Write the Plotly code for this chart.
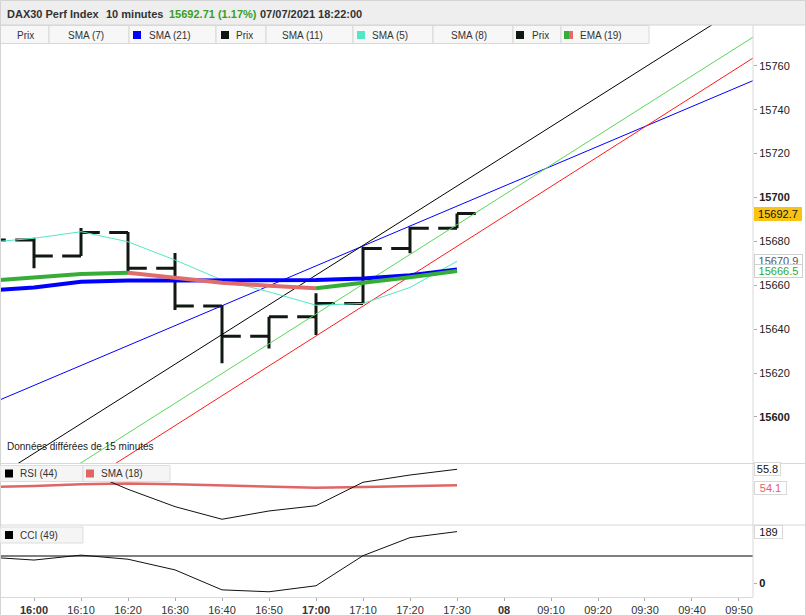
import plotly.graph_objects as go

# ---------------- data ----------------
bar_idx = [-1, 0, 1, 2, 3, 4, 5, 6, 7, 8, 9]
bar_open = [15676.0, 15680.6, 15673.3, 15684.0, 15667.8, 15650.5, 15636.8, 15645.6, 15651.7, 15676.8, 15686.0]
bar_high = [15684.0, 15681.7, 15686.1, 15684.3, 15674.7, 15651.0, 15645.6, 15656.3, 15677.6, 15686.7, 15692.7]
bar_low = [15672.0, 15667.7, 15673.3, 15666.0, 15648.7, 15624.4, 15631.2, 15637.3, 15651.7, 15674.6, 15686.0]
bar_close = [15680.6, 15673.3, 15684.0, 15667.8, 15650.5, 15636.8, 15645.6, 15651.7, 15676.8, 15686.0, 15692.7]

sma21 = [15657.6, 15659.0, 15661.6, 15662.2, 15662.2, 15662.2, 15662.2, 15662.4, 15663.1, 15664.6, 15667.2]
ema19 = [15662.0, 15663.6, 15665.1, 15665.7, 15663.6, 15661.1, 15659.8, 15658.6, 15660.9, 15663.6, 15666.5]
sma5 = [15679.5, 15681.4, 15684.4, 15679.8, 15671.5, 15662.4, 15657.0, 15650.9, 15651.7, 15659.0, 15670.9]

# straight trend lines (value at bar index -1 and 16)
trend_x = [-1, 16]
trend_black = [15569.85, 15800.0]
trend_green = [15551.94, 15782.57]
trend_red = [15541.53, 15773.09]
trend_blue = [15605.27, 15759.61]

rsi44 = [55.5, 55.4, 55.8, 53.67, 51.83, 50.49, 51.37, 51.93, 54.42, 55.19, 55.8]
rsi_sma18 = [53.92, 54.02, 54.2, 54.3, 54.22, 54.1, 53.97, 53.84, 53.93, 54.02, 54.1]
cci49 = [96, 85, 103, 88, 49, -24, -31, -9, 101, 167, 189]
cci_level = 100

tick_idx = list(range(16))
tick_labels = ["<b>16:00</b>", "16:10", "16:20", "16:30", "16:40", "16:50", "<b>17:00</b>",
               "17:10", "17:20", "17:30", "<b>08</b>", "09:10", "09:20", "09:30", "09:40", "09:50"]
price_ticks = [15600, 15620, 15640, 15660, 15680, 15700, 15720, 15740, 15760]
price_tick_text = ["<b>15600</b>", "15620", "15640", "15660", "15680", "<b>15700</b>", "15720", "15740", "15760"]

last_price = 15692.7
last_sma5 = 15670.9
last_ema = 15666.5
last_rsi = 55.8
last_rsi_sma = 54.1
last_cci = 189

# ---------------- layout helpers (pixel -> paper) ----------------
W, H = 806, 616
L, R, T, B = 0, 53, 25, 19
PW, PH = W - L - R, H - T - B


def px(x):
    return (x - L) / PW


def py(y):
    return (H - B - y) / PH


FONT = "Liberation Sans, Arial, sans-serif"

fig = go.Figure()

# trend lines
for vals, col in [(trend_blue, "#0000ff"), (trend_black, "#000000"),
                  (trend_green, "#5ad65a"), (trend_red, "#ff1a1a")]:
    fig.add_trace(go.Scatter(x=trend_x, y=vals, mode="lines",
                             line=dict(color=col, width=1), hoverinfo="skip"))

# SMA 5 cyan
fig.add_trace(go.Scatter(x=bar_idx, y=sma5, mode="lines",
                         line=dict(color="#52e8c4", width=1)))
# SMA 21 thick blue
fig.add_trace(go.Scatter(x=bar_idx, y=sma21, mode="lines",
                         line=dict(color="#0000ff", width=4)))

# EMA 19 coloured by direction
segs = []
start = 0
cur = None
for i in range(1, len(ema19)):
    up = ema19[i] >= ema19[i - 1]
    if cur is None:
        cur = up
    if up != cur:
        segs.append((start, i - 1, cur))
        start = i - 1
        cur = up
segs.append((start, len(ema19) - 1, cur))
for s, e, up in segs:
    fig.add_trace(go.Scatter(x=bar_idx[s:e + 1], y=ema19[s:e + 1], mode="lines",
                             line=dict(color="#36ad36" if up else "#e06c6c", width=4)))

# price bars
fig.add_trace(go.Ohlc(x=bar_idx, open=bar_open, high=bar_high, low=bar_low, close=bar_close,
                      tickwidth=0.4,
                      increasing=dict(line=dict(color="#111811", width=3)),
                      decreasing=dict(line=dict(color="#111811", width=3))))

# RSI panel
fig.add_trace(go.Scatter(x=bar_idx, y=rsi_sma18, mode="lines", yaxis="y2",
                         line=dict(color="#e06666", width=2.5)))
fig.add_trace(go.Scatter(x=bar_idx, y=rsi44, mode="lines", yaxis="y2",
                         line=dict(color="#111111", width=1)))

# CCI panel
fig.add_trace(go.Scatter(x=[-1, 16], y=[cci_level, cci_level], mode="lines", yaxis="y3",
                         line=dict(color="#555555", width=1.5)))
fig.add_trace(go.Scatter(x=bar_idx, y=cci49, mode="lines", yaxis="y3",
                         line=dict(color="#111111", width=1)))

shapes = []
annotations = []

# header
shapes.append(dict(type="rect", xref="paper", yref="paper", x0=px(0), x1=px(W), y0=py(0), y1=py(25),
                   fillcolor="#eeeeee", line=dict(width=0), layer="above"))
shapes.append(dict(type="line", xref="paper", yref="paper", x0=px(0), x1=px(W), y0=py(25), y1=py(25),
                   line=dict(color="#d4d4d4", width=1), layer="above"))

header = [(5, "<b>DAX30 Perf Index</b>", "#333333"),
          (104, "<b>10 minutes</b>", "#333333"),
          (167, "<b>15692.71 (1.17%)</b>", "#3a9e22"),
          (258, "<b>07/07/2021 18:22:00</b>", "#333333")]
for x, t, c in header:
    annotations.append(dict(x=px(x), y=py(14), xref="paper", yref="paper", xanchor="left", yanchor="middle",
                            text=t, showarrow=False, font=dict(family=FONT, size=11, color=c)))

# legend row
legend_boxes = [(0, 49), (49, 129), (129, 216), (216, 266), (266, 353), (353, 433), (433, 513), (513, 561), (561, 649)]
for x0, x1 in legend_boxes:
    shapes.append(dict(type="rect", xref="paper", yref="paper", x0=px(x0), x1=px(x1), y0=py(25.5), y1=py(43.5),
                       fillcolor="#f7f7f7", line=dict(color="#d8d8d8", width=1), layer="above"))
legend_text = [(25, "Prix", "center"), (86, "SMA (7)", "center"), (147, "SMA (21)", "left"),
               (234, "Prix", "left"), (302, "SMA (11)", "center"), (370, "SMA (5)", "left"),
               (469, "SMA (8)", "center"), (530, "Prix", "left"), (578, "EMA (19)", "left")]
for x, t, a in legend_text:
    annotations.append(dict(x=px(x), y=py(35), xref="paper", yref="paper", xanchor=a, yanchor="middle",
                            text=t, showarrow=False, font=dict(family=FONT, size=10, color="#333333")))
squares = [(133, 141, "#0000ff"), (221, 229, "#111811"), (357, 365, "#52e8c4"), (516, 524, "#111811"),
           (564, 569, "#36ad36"), (569, 573, "#e06c6c")]
for x0, x1, c in squares:
    shapes.append(dict(type="rect", xref="paper", yref="paper", x0=px(x0), x1=px(x1), y0=py(31), y1=py(39),
                       fillcolor=c, line=dict(width=0), layer="above"))

# panel separators / borders
for yy in [463.5, 525]:
    shapes.append(dict(type="line", xref="paper", yref="paper", x0=px(0), x1=px(W), y0=py(yy), y1=py(yy),
                       line=dict(color="#d8d8d8", width=1), layer="above"))
shapes.append(dict(type="line", xref="paper", yref="paper", x0=px(753), x1=px(753), y0=py(25), y1=py(597),
                   line=dict(color="#d8d8d8", width=1), layer="above"))
shapes.append(dict(type="rect", xref="paper", yref="paper", x0=px(0.5), x1=px(805.5), y0=py(0.5), y1=py(615.5),
                   line=dict(color="#d4d4d4", width=1), fillcolor="rgba(0,0,0,0)", layer="above"))

# indicator legends
ind_boxes = [(0, 83, 465.5, 481.5), (83, 170, 465.5, 481.5), (0, 83, 527, 543)]
for x0, x1, y0, y1 in ind_boxes:
    shapes.append(dict(type="rect", xref="paper", yref="paper", x0=px(x0), x1=px(x1), y0=py(y0), y1=py(y1),
                       fillcolor="#f5f5f5", line=dict(color="#dddddd", width=1), layer="above"))
for x0, x1, y0, y1, c in [(5, 13, 469.5, 477.5, "#000000"), (86, 94, 469.5, 477.5, "#e06666"),
                          (5, 13, 531, 539, "#000000")]:
    shapes.append(dict(type="rect", xref="paper", yref="paper", x0=px(x0), x1=px(x1), y0=py(y0), y1=py(y1),
                       fillcolor=c, line=dict(width=0), layer="above"))
for x, y, t in [(18, 473.5, "RSI (44)"), (99, 473.5, "SMA (18)"), (18, 535, "CCI (49)")]:
    annotations.append(dict(x=px(x), y=py(y), xref="paper", yref="paper", xanchor="left", yanchor="middle",
                            text=t, showarrow=False, font=dict(family=FONT, size=10, color="#333333")))

annotations.append(dict(x=px(5), y=py(447), xref="paper", yref="paper", xanchor="left", yanchor="middle",
                        text="Données différées de 15 minutes", showarrow=False,
                        font=dict(family=FONT, size=10, color="#222222")))


def val_label(text, yv, yref, color, bg, border, width):
    return dict(x=1, xref="paper", xanchor="left", xshift=1, y=yv, yref=yref, yanchor="middle",
                text=text, showarrow=False, font=dict(family=FONT, size=11, color=color),
                bgcolor=bg, bordercolor=border, borderwidth=1, borderpad=0, width=width, height=12,
                align="center")


annotations.append(val_label(f"{last_price:.1f}", last_price, "y", "#111111", "#f7c415", "#f7c415", 46))
annotations.append(val_label(f"{last_sma5:.1f}", last_sma5, "y", "#555555", "#ffffff", "#d0d0d0", 47))
annotations.append(val_label(f"{last_ema:.1f}", last_ema, "y", "#2ea82e", "#ffffff", "#d0d0d0", 47))
annotations.append(val_label(f"{last_rsi:.1f}", last_rsi, "y2", "#111111", "#ffffff", "#d8d8d8", 25))
annotations.append(val_label(f"{last_rsi_sma:.1f}", last_rsi_sma - 0.25, "y2", "#e06060", "#ffffff", "#d8d8d8", 31))
annotations.append(val_label(f"{last_cci}", last_cci, "y3", "#111111", "#ffffff", "#d8d8d8", 27))

fig.update_layout(
    width=W, height=H,
    margin=dict(l=L, r=R, t=T, b=B, pad=0, autoexpand=False),
    paper_bgcolor="white", plot_bgcolor="white",
    showlegend=False,
    font=dict(family=FONT, size=11, color="#333333"),
    xaxis=dict(range=[-0.7234, 15.298], anchor="y3", tickmode="array", tickvals=tick_idx,
               ticktext=tick_labels, ticks="outside", ticklen=3, tickcolor="#aaaaaa",
               showgrid=False, zeroline=False, showline=True, linecolor="#d8d8d8",
               tickfont=dict(family=FONT, size=11, color="#333333"),
               rangeslider=dict(visible=False), fixedrange=True),
    yaxis=dict(domain=[py(463), 1], range=[15579.0, 15778.6], side="right", anchor="x",
               tickmode="array", tickvals=price_ticks, ticktext=price_tick_text,
               ticks="outside", ticklen=3, tickcolor="#aaaaaa", showgrid=False, zeroline=False,
               tickfont=dict(family=FONT, size=11, color="#222222")),
    yaxis2=dict(domain=[py(525), py(464)], range=[49.88, 56.36], side="right", anchor="x",
                showticklabels=False, showgrid=False, zeroline=False, ticks=""),
    yaxis3=dict(domain=[0, py(526)], range=[-50.1, 209.5], side="right", anchor="x",
                tickmode="array", tickvals=[0], ticktext=["<b>0</b>"], ticks="outside", ticklen=3,
                tickcolor="#aaaaaa", showgrid=False, zeroline=False,
                tickfont=dict(family=FONT, size=11, color="#111111")),
    shapes=shapes,
    annotations=annotations,
)

fig.write_html("out.html", config={"displayModeBar": False},
               post_script="document.body.style.margin='0px';document.body.style.padding='0px';")
